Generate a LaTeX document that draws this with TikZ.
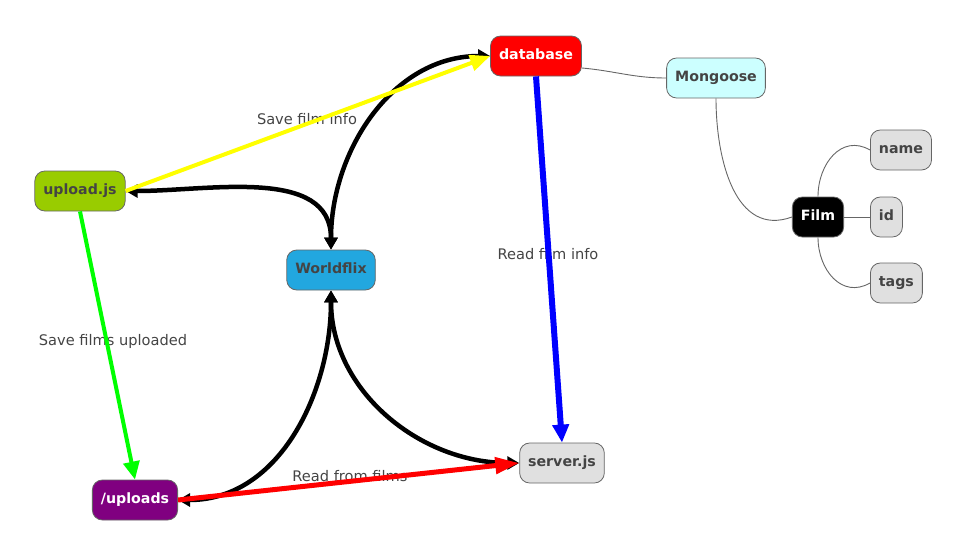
\documentclass[tikz,border=0pt]{standalone}
\usepackage{fontspec}
\setmainfont{DejaVu Sans}
\usetikzlibrary{arrows.meta}
\definecolor{bordgris}{HTML}{666666}
\definecolor{txtgris}{HTML}{444444}
\definecolor{grisclair}{HTML}{E0E0E0}
\definecolor{cyanpale}{HTML}{CCFFFF}
\definecolor{vertpomme}{HTML}{99CC00}
\definecolor{bleuciel}{HTML}{22A7DF}
\definecolor{violet}{HTML}{800080}
\definecolor{jaune}{HTML}{FFFF00}
\definecolor{vertvif}{HTML}{00FF00}
\begin{document}
\begin{tikzpicture}[x=1pt,y=-1pt,
  noeud/.style={draw=bordgris,line width=0.8pt,rounded corners=10pt,minimum height=40pt,
    inner xsep=8.5pt,text height=10.5pt,text depth=3pt,
    font=\bfseries\fontsize{14.2}{16}\selectfont,text=txtgris},
  lien/.style={draw=bordgris,line width=0.9pt},
  etiq/.style={font=\fontsize{14.6}{17}\selectfont,text=txtgris},
  fleche/.style={line width=4.5pt,{Triangle[length=12pt,width=13pt]}-{Triangle[length=12pt,width=13pt]}},
  pointe/.style={-{Triangle[length=#1,width=16pt]}},
  pointe/.default=18pt]
  \useasboundingbox (0,0) rectangle (970,557);
  \pgfmathsetmacro{\colx}{870}
  % noeuds
  \node[noeud,fill=red,text=white] (base) at (536,56) {database};
  \node[noeud,fill=cyanpale] (mongoose) at (716,78) {Mongoose};
  \node[noeud,fill=vertpomme] (upload) at (80,191) {upload.js};
  \node[noeud,fill=bleuciel] (worldflix) at (331,270) {Worldflix};
  \node[noeud,fill=black,text=white] (film) at (818,217) {Film};
  \node[noeud,fill=grisclair,anchor=west] (name) at (\colx,150) {name};
  \node[noeud,fill=grisclair,anchor=west] (id) at (\colx,217) {id};
  \node[noeud,fill=grisclair,anchor=west] (tags) at (\colx,283) {tags};
  \node[noeud,fill=grisclair] (server) at (562,463) {server.js};
  \node[noeud,fill=violet,text=white] (uploads) at (135,500) {/uploads};
  % etiquettes
  \node[etiq] (lsave) at (307,119) {Save film info};
  \node[etiq] (lread) at (548,254) {Read film info};
  \node[etiq] (lfilms) at (113,341) {Save films uploaded};
  \node[etiq] (lfrom) at (350,476) {Read from films};
  % liens fins
  \draw[lien] ([yshift=-12pt]base.east) to[out=-5,in=180] (mongoose.west);
  \draw[lien] (mongoose.south) to[out=-90,in=200,looseness=1.1] (film.west);
  \draw[lien] (film.north) to[out=90,in=150,looseness=1.2] (name.west);
  \draw[lien] (film.east) -- (id.west);
  \draw[lien] (film.south) to[out=-90,in=210,looseness=1.2] (tags.west);
  % connecteurs noirs
  \draw[fleche] (base.west) to[out=180,in=90] (worldflix.north);
  \draw[fleche] (upload.east) to[out=0,in=90] (worldflix.north);
  \draw[fleche] (worldflix.south) to[out=270,in=0] (uploads.east);
  \draw[fleche] (worldflix.south) to[out=270,in=180] (server.west);
  % connecteurs en couleur
  \draw[line width=4pt,jaune,pointe=20pt] (upload.east) -- (base.west);
  \draw[line width=6pt,blue,pointe] (base.south) -- (server.north);
  \draw[line width=4pt,vertvif,pointe] (upload.south) -- (uploads.north);
  \draw[line width=5pt,red,pointe=24pt] (uploads.east) -- (server.west);
\end{tikzpicture}
\end{document}
